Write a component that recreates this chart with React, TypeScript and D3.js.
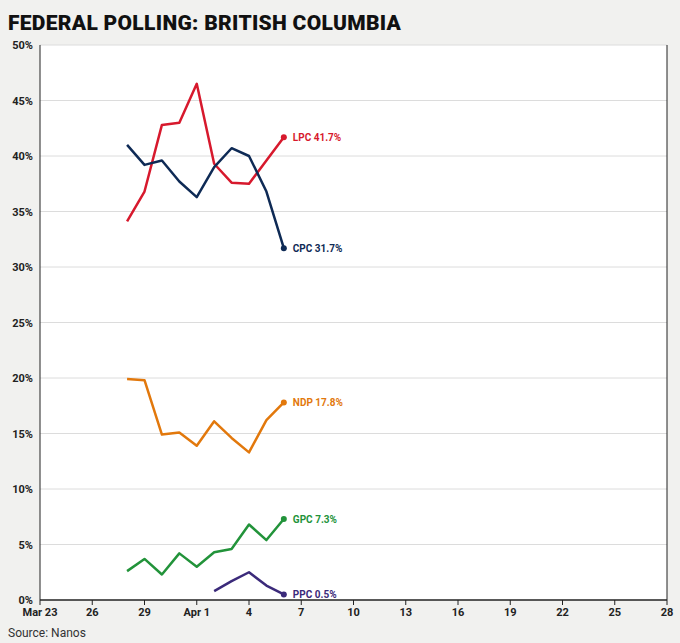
import * as d3 from 'd3'

const days = d3.range(10).map(i => new Date(2025, 2, 28 + i))
const LPC = [34.1, 36.8, 42.8, 43.0, 46.5, 39.3, 37.6, 37.5, 39.6, 41.7]
const CPC = [41.0, 39.2, 39.6, 37.7, 36.3, 39.0, 40.7, 40.0, 36.8, 31.7]
const NDP = [19.9, 19.8, 14.9, 15.1, 13.9, 16.1, 14.6, 13.3, 16.2, 17.8]
const GPC = [2.6, 3.7, 2.3, 4.2, 3.0, 4.3, 4.6, 6.8, 5.4, 7.3]
const PPC = [null, null, null, null, null, 0.8, 1.7, 2.5, 1.3, 0.5]
const series = [
  { name: 'LPC', vals: LPC, color: '#d7192d' },
  { name: 'CPC', vals: CPC, color: '#0e2a55' },
  { name: 'NDP', vals: NDP, color: '#e2780c' },
  { name: 'GPC', vals: GPC, color: '#22933a' },
  { name: 'PPC', vals: PPC, color: '#3b2a7a' },
]
const xTicks = [23, 26, 29, 32, 35, 38, 41, 44, 47, 50, 53, 56, 59].map(d => new Date(2025, 2, d))
const yTicks = d3.range(0, 55, 5)

export default function App() {
  const W = 680, H = 643
  const x = d3.scaleTime().domain([new Date(2025, 2, 23), new Date(2025, 3, 28)]).range([40, 667])
  const y = d3.scaleLinear().domain([0, 50]).range([600, 45])
  const fmt = (d: Date) => d.getDate() === 23 ? 'Mar 23' : d.getMonth() === 3 && d.getDate() === 1 ? 'Apr 1' : String(d.getDate())
  const line = d3.line<number | null>().defined(v => v != null).x((_, i) => x(days[i])).y(v => y(v as number))
  const font = 'Roboto, sans-serif'
  return (
    <svg width={W} height={H} style={{ position: 'absolute', left: 0, top: 0 }} fontFamily={font}>
      <rect width={W} height={H} fill="#f1f1ef" />
      <rect x={40} y={45} width={627} height={555} fill="#fff" />
      <text x={8} y={30} fontSize={21} fontWeight={900} fill="#111" letterSpacing={0.3}>FEDERAL POLLING: BRITISH COLUMBIA</text>
      {yTicks.map(t => (
        <g key={t}>
          {t > 0 && <line x1={40} x2={667} y1={y(t)} y2={y(t)} stroke="#dcdcdc" />}
          <text x={33} y={y(t) + 4} textAnchor="end" fontSize={11} fontWeight={700} fill="#222">{t}%</text>
        </g>
      ))}
      <line x1={667} x2={667} y1={45} y2={600} stroke="#222" />
      <line x1={40} x2={667} y1={600} y2={600} stroke="#222" strokeWidth={1.5} />
      <line x1={40} x2={40} y1={45} y2={600} stroke="#222" />
      {xTicks.map((t, i) => (
        <g key={i}>
          <line x1={x(t)} x2={x(t)} y1={600} y2={605} stroke="#222" />
          <text x={x(t)} y={616} textAnchor="middle" fontSize={11} fontWeight={700} fill="#222">{fmt(t)}</text>
        </g>
      ))}
      <text x={8} y={637} fontSize={12} fill="#333">Source: Nanos</text>
      {series.map(s => {
        const last = s.vals[s.vals.length - 1] as number
        return (
          <g key={s.name}>
            <path d={line(s.vals) || ''} fill="none" stroke={s.color} strokeWidth={2.5} strokeLinejoin="round" />
            <circle cx={x(days[9])} cy={y(last)} r={3} fill={s.color} />
            <text x={x(days[9]) + 9} y={y(last) + 4} fontSize={10} fontWeight={700} fill={s.color}>{s.name} {last.toFixed(1)}%</text>
          </g>
        )
      })}
    </svg>
  )
}
